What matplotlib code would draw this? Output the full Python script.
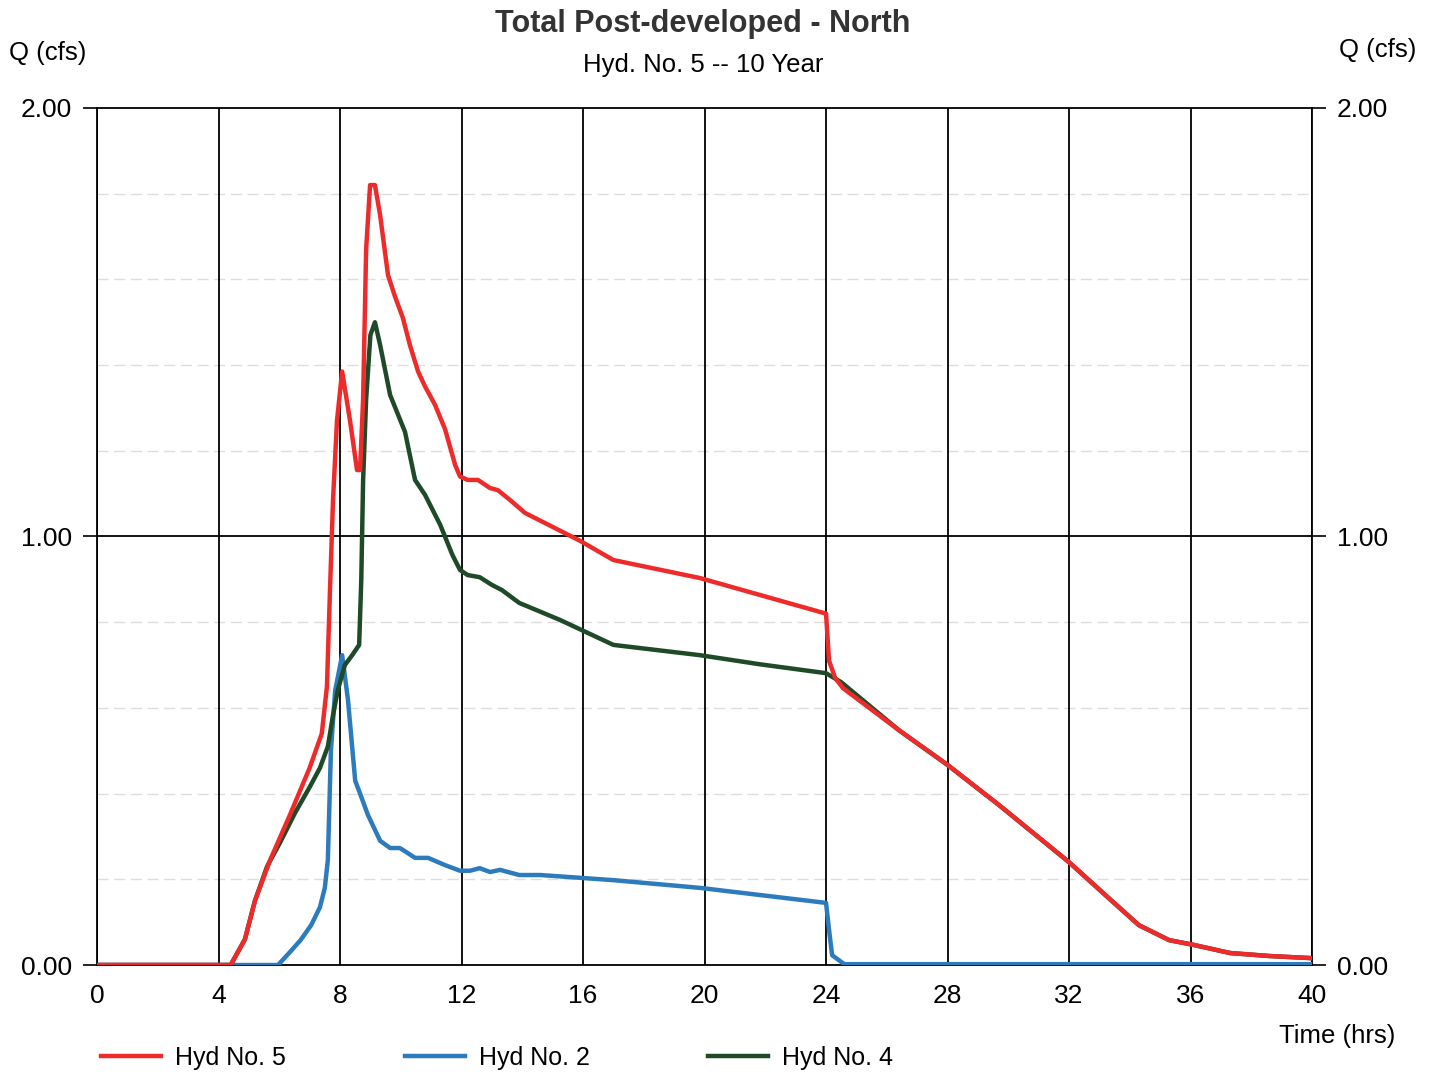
import numpy as np
import matplotlib.pyplot as plt

plt.rcParams.update({
    "font.family": "Liberation Sans",
    "font.size": 18,
})

# -----------------------------------------------------
# DATA (read off the hydrograph)
# -----------------------------------------------------
t_hyd5 = [0, 4.4, 4.87, 5.2, 5.7, 6.35, 7.0, 7.4, 7.57, 7.67, 7.77, 7.9, 8.07,
          8.33, 8.56, 8.66, 8.76, 8.86, 8.99, 9.15, 9.32, 9.58, 9.81, 10.07,
          10.3, 10.57, 10.8, 11.13, 11.46, 11.79, 11.95, 12.2, 12.54, 12.94,
          13.2, 13.6, 14.09, 15.9, 17.0, 19.85, 21.8, 24.0, 24.1, 24.3, 24.56,
          26.4, 28.0, 29.7, 32.0, 33.2, 34.3, 35.3, 36.1, 37.3, 38.6, 40]
q_hyd5 = [0, 0, 0.06, 0.15, 0.245, 0.35, 0.46, 0.54, 0.65, 0.875, 1.085, 1.27,
          1.385, 1.27, 1.155, 1.155, 1.32, 1.67, 1.82, 1.82, 1.75, 1.61, 1.56,
          1.51, 1.447, 1.385, 1.35, 1.307, 1.25, 1.167, 1.14, 1.132, 1.132,
          1.113, 1.108, 1.085, 1.055, 0.99, 0.945, 0.903, 0.864, 0.82, 0.71,
          0.67, 0.646, 0.548, 0.467, 0.373, 0.24, 0.163, 0.093, 0.058, 0.047,
          0.028, 0.021, 0.016]

t_hyd2 = [0, 5.96, 6.35, 6.7, 7.05, 7.34, 7.5, 7.6, 7.7, 7.84, 8.07, 8.26, 8.5,
          8.66, 8.92, 9.32, 9.65, 9.97, 10.17, 10.47, 10.9, 11.46, 11.95,
          12.28, 12.6, 12.94, 13.27, 13.9, 14.6, 17.0, 19.85, 24.0, 24.1,
          24.2, 24.6, 40]
q_hyd2 = [0, 0, 0.03, 0.058, 0.093, 0.135, 0.18, 0.245, 0.5, 0.64, 0.723, 0.62,
          0.43, 0.4, 0.35, 0.29, 0.273, 0.273, 0.264, 0.25, 0.25, 0.233, 0.22,
          0.22, 0.226, 0.217, 0.222, 0.21, 0.21, 0.198, 0.18, 0.145, 0.082,
          0.023, 0.002, 0.002]

t_hyd4 = [0, 4.4, 4.87, 5.2, 5.6, 6.02, 6.52, 7.0, 7.34, 7.6, 7.77, 7.93, 8.16,
          8.4, 8.63, 8.7, 8.76, 8.86, 9.0, 9.15, 9.32, 9.65, 9.85, 10.14,
          10.47, 10.8, 11.3, 11.7, 11.95, 12.2, 12.6, 13.0, 13.33, 13.9,
          15.25, 17.0, 19.85, 21.8, 24.0, 24.5, 26.4, 28.0, 29.7, 32.0, 33.2,
          34.3, 35.3, 36.1, 37.3, 38.6, 40]
q_hyd4 = [0, 0, 0.06, 0.15, 0.23, 0.285, 0.355, 0.415, 0.46, 0.51, 0.583,
          0.642, 0.70, 0.723, 0.747, 0.898, 1.13, 1.32, 1.47, 1.50, 1.447,
          1.33, 1.295, 1.244, 1.132, 1.097, 1.027, 0.957, 0.922, 0.91, 0.905,
          0.887, 0.875, 0.845, 0.805, 0.747, 0.723, 0.702, 0.681, 0.66, 0.548,
          0.467, 0.373, 0.24, 0.163, 0.093, 0.058, 0.047, 0.028, 0.021, 0.016]

x_ticks = np.arange(0, 41, 4)
y_ticks = [0.0, 1.0, 2.0]
y_minor = [0.2, 0.4, 0.6, 0.8, 1.2, 1.4, 1.6, 1.8]

red = "#ee2b2b"
blue = "#2b7bbd"
green = "#1e4a28"

# -----------------------------------------------------
# FIGURE
# -----------------------------------------------------
fig = plt.figure(figsize=(14.35, 10.72), dpi=100)
ax = fig.add_axes([0.0676, 0.0998, 0.8467, 0.7995])

ax.set_xlim(0, 40)
ax.set_ylim(0, 2)

# grid
for y in y_minor:
    ax.axhline(y, color="#dddddd", linewidth=1.0, linestyle=(0, (8, 4)), zorder=0)
for x in x_ticks:
    ax.axvline(x, color="black", linewidth=1.3, zorder=1)
ax.axhline(1.0, color="black", linewidth=1.3, zorder=1)

ax.plot(t_hyd2, q_hyd2, color=blue, linewidth=3.2, label="Hyd No. 2", zorder=3)
ax.plot(t_hyd4, q_hyd4, color=green, linewidth=3.2, label="Hyd No. 4", zorder=4)
ax.plot(t_hyd5, q_hyd5, color=red, linewidth=3.2, label="Hyd No. 5", zorder=5)

for side in ["top", "bottom", "left", "right"]:
    ax.spines[side].set_linewidth(1.3)

ax.set_xticks(x_ticks)
ax.set_xticklabels([str(v) for v in x_ticks])
ax.set_yticks(y_ticks)
ax.set_yticklabels([f"{v:.2f}" for v in y_ticks])
ax.tick_params(axis="x", length=0, pad=14, labelsize=19)
ax.tick_params(axis="y", length=10, width=1.2, pad=8, labelsize=19,
               left=True, right=True, labelleft=True, labelright=True)

# titles and axis labels
fig.text(0.49, 0.978, "Total Post-developed - North", ha="center", va="center",
         fontsize=22, fontweight="bold", color="#333333")
fig.text(0.49, 0.939, "Hyd. No. 5 -- 10 Year", ha="center", va="center",
         fontsize=18.5)
fig.text(0.033, 0.951, "Q (cfs)", ha="center", va="center", fontsize=18.5)
fig.text(0.960, 0.953, "Q (cfs)", ha="center", va="center", fontsize=18.5)
fig.text(0.932, 0.034, "Time (hrs)", ha="center", va="center", fontsize=18.5)

# legend
handles, labels = ax.get_legend_handles_labels()
order = [2, 0, 1]
fig.legend([handles[i] for i in order], [labels[i] for i in order],
           loc="center left", bbox_to_anchor=(0.055, 0.013), ncol=3,
           frameon=False, fontsize=18, handlelength=2.4, handletextpad=0.55,
           columnspacing=4.75)

plt.savefig("out.png", dpi=100)
